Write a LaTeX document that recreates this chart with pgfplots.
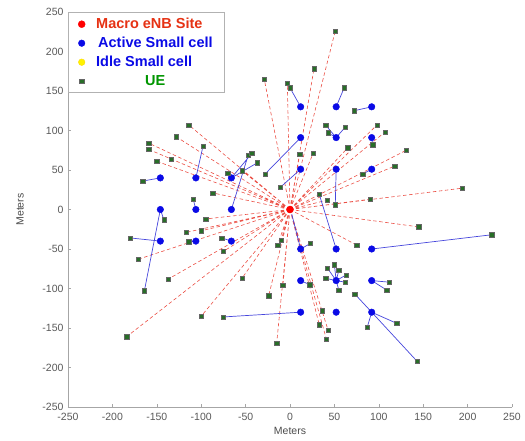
\documentclass[border=0pt]{standalone}
\usepackage{fontspec}
\setmainfont{Liberation Sans}
\usepackage{pgfplots}
\pgfplotsset{compat=1.18}
\definecolor{uegreen}{RGB}{40,110,40}
\definecolor{legred}{RGB}{230,50,20}
\definecolor{leggreen}{RGB}{0,150,0}
\definecolor{cellblue}{RGB}{10,10,230}
\definecolor{linkblue}{RGB}{70,70,220}
\definecolor{dashred}{RGB}{235,80,70}
\begin{document}
\begin{tikzpicture}[x=1pt,y=1pt]
\useasboundingbox (0,0) rectangle (525,440);
\begin{axis}[
  at={(68pt,33pt)}, anchor=south west,
  width=444pt, height=395pt, scale only axis,
  xmin=-250, xmax=250, ymin=-250, ymax=250,
  xtick={-250,-200,...,250}, ytick={-250,-200,...,250},
  axis x line*=bottom, axis y line*=left,
  axis line style={gray!70, line width=0.6pt},
  tick style={gray!70}, tick align=inside,
  major tick length=3pt,
  ticklabel style={font=\fontsize{10.5}{10.5}\selectfont, text=black!65},
  xticklabel style={yshift=-2.5pt},
  yticklabel style={xshift=-1pt},
  /pgf/number format/assume math mode=true,
  xlabel={Meters}, ylabel={Meters},
  label style={font=\fontsize{10.5}{10.5}\selectfont, text=black!70},
  xlabel style={at={(axis description cs:0.5,-0.06)}, anchor=center},
  ylabel style={at={(axis description cs:-0.108,0.5)}, anchor=center},
  unbounded coords=jump,
  clip=false,
  legend style={at={(0,1)}, anchor=north west, draw=gray!60, fill=white,
    font=\bfseries\fontsize{14.5}{17}\selectfont, row sep=3pt,
    inner xsep=10pt, inner ysep=4pt},
  legend cell align=left,
]
% red dashed links macro -> UE
\addplot[dashred, line width=0.6pt, dash pattern=on 3.5pt off 2.5pt, forget plot] coordinates {
(0,0) (-159,84) (nan,nan) (0,0) (-159,76) (nan,nan) (0,0) (-150,61) (nan,nan)
(0,0) (-128,92) (nan,nan) (0,0) (-114,107) (nan,nan) (0,0) (-134,64) (nan,nan)
(0,0) (-87,21) (nan,nan) (0,0) (-54,49) (nan,nan) (0,0) (51,226) (nan,nan)
(0,0) (27,178) (nan,nan) (0,0) (-29,165) (nan,nan) (0,0) (-3,160) (nan,nan)
(0,0) (11,70) (nan,nan) (0,0) (26,71) (nan,nan) (0,0) (65,78) (nan,nan)
(0,0) (98,107) (nan,nan) (0,0) (107,98) (nan,nan) (0,0) (131,75) (nan,nan)
(0,0) (118,55) (nan,nan) (0,0) (194,27) (nan,nan) (0,0) (90,13) (nan,nan)
(0,0) (42,12) (nan,nan) (0,0) (-184,-161) (nan,nan) (0,0) (-171,-63) (nan,nan)
(0,0) (-137,-88) (nan,nan) (0,0) (-117,-29) (nan,nan) (0,0) (-100,-27) (nan,nan)
(0,0) (-95,-12) (nan,nan) (0,0) (-75,-53) (nan,nan) (0,0) (-54,-87) (nan,nan)
(0,0) (-100,-135) (nan,nan) (0,0) (-10,-39) (nan,nan) (0,0) (-14,-45) (nan,nan)
(0,0) (-8,-96) (nan,nan) (0,0) (-24,-109) (nan,nan) (0,0) (36,-128) (nan,nan)
(0,0) (33,-146) (nan,nan) (0,0) (43,-153) (nan,nan) (0,0) (41,-164) (nan,nan)
(0,0) (-15,-169) (nan,nan) (0,0) (145,-22) (nan,nan) (0,0) (75,-45)
};
% blue links small cell -> UE
\addplot[linkblue, line width=0.7pt, forget plot] coordinates {
(-146,40) (-166,36) (nan,nan) (-106,40) (-98,80) (nan,nan) (-106,0) (-109,13) (nan,nan)
(-146,0) (-142,-13) (nan,nan) (-146,0) (-164,-103) (nan,nan) (-146,-40) (-180,-36) (nan,nan)
(-106,-40) (-114,-41) (nan,nan) (-66,-40) (-77,-36) (nan,nan) (-66,40) (-70,46) (nan,nan)
(-66,0) (-47,69) (nan,nan) (-66,40) (-43,71) (nan,nan) (-66,40) (-37,59) (nan,nan)
(12,130) (0,154) (nan,nan) (52,130) (61,154) (nan,nan) (92,130) (72,125) (nan,nan)
(12,91) (-28,45) (nan,nan) (12,51) (-11,28) (nan,nan) (52,51) (51,6) (nan,nan)
(92,51) (82,45) (nan,nan) (92,91) (93,82) (nan,nan) (52,91) (40,107) (nan,nan)
(52,91) (43,97) (nan,nan) (52,91) (62,104) (nan,nan) (12,-50) (23,-43) (nan,nan)
(12,-50) (2,-6) (nan,nan)
(52,-50) (33,19) (nan,nan) (92,-50) (227,-32) (nan,nan) (12,-130) (-75,-136) (nan,nan)
(12,-90) (22,-95) (nan,nan) (52,-90) (42,-74) (nan,nan) (52,-90) (40,-87) (nan,nan)
(52,-90) (50,-70) (nan,nan) (52,-90) (55,-77) (nan,nan) (52,-90) (63,-83) (nan,nan)
(52,-90) (62,-92) (nan,nan) (52,-90) (55,-102) (nan,nan) (92,-90) (112,-92) (nan,nan)
(92,-90) (109,-102) (nan,nan) (92,-130) (73,-107) (nan,nan) (92,-130) (120,-144) (nan,nan)
(92,-130) (87,-149) (nan,nan) (92,-130) (143,-192)
};
% macro site
\addplot[only marks, mark=*, mark size=3.5pt, mark options={fill=red, draw=red}] coordinates {(0,0)};
\addlegendentry{\hspace{9pt}\textcolor{legred}{Macro eNB Site}}
% active small cells
\addplot[only marks, mark=*, mark size=3.3pt, mark options={fill=cellblue, draw=cellblue}] coordinates {
(12,130) (52,130) (92,130) (12,91) (52,91) (92,91) (12,51) (52,51) (92,51)
(-146,40) (-106,40) (-66,40) (-146,0) (-106,0) (-66,0) (-146,-40) (-106,-40) (-66,-40)
(12,-50) (52,-50) (92,-50) (12,-90) (52,-90) (92,-90) (12,-130) (52,-130) (92,-130)
};
\addlegendentry{\hspace{11pt}\textcolor{cellblue}{Active Small cell}}
\addlegendimage{only marks, mark=*, mark size=3.3pt, mark options={fill=yellow, draw=yellow!80!orange}}
\addlegendentry{\hspace{9pt}\textcolor{cellblue}{Idle Small cell}}
% UEs
\addplot[only marks, mark=square*, mark size=2.2pt, mark options={fill=uegreen, draw=black!60}] coordinates {
(-159,84) (-159,76) (-150,61) (-128,92) (-114,107) (-134,64) (-87,21) (-54,49) (51,226)
(27,178) (-29,165) (-3,160) (11,70) (26,71) (65,78) (98,107) (107,98) (131,75)
(118,55) (194,27) (90,13) (42,12) (-184,-161) (-171,-63) (-137,-88) (-117,-29) (-100,-27)
(-95,-12) (-75,-53) (-54,-87) (-100,-135) (-10,-39) (-14,-45) (-8,-96) (-24,-109) (36,-128)
(33,-146) (43,-153) (41,-164) (-15,-169) (145,-22) (75,-45)
(-166,36) (-98,80) (-109,13) (-142,-13) (-164,-103) (-180,-36) (-114,-41) (-77,-36) (-70,46)
(-47,69) (-43,71) (-37,59) (0,154) (61,154) (72,125) (-28,45) (-11,28) (51,6)
(82,45) (93,82) (40,107) (43,97) (62,104) (23,-43) (33,19) (227,-32) (-75,-136)
(22,-95) (42,-74) (40,-87) (50,-70) (55,-77) (63,-83) (62,-92) (55,-102) (112,-92)
(109,-102) (73,-107) (120,-144) (87,-149) (143,-192)
};
\addlegendentry{\hspace{58pt}\textcolor{leggreen}{UE}}
\end{axis}
\end{tikzpicture}
\end{document}
